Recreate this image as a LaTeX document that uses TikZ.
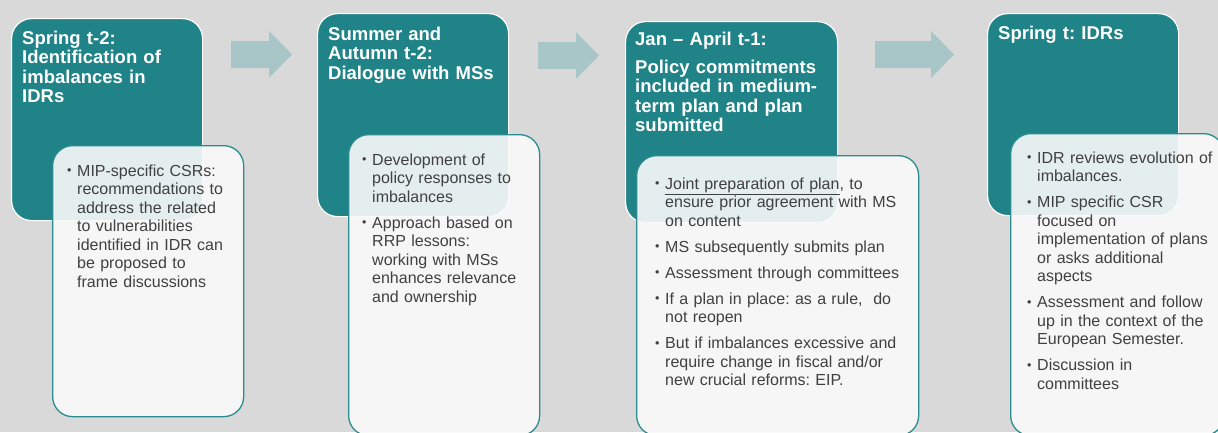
\documentclass[tikz,border=0pt]{standalone}
\usepackage{fontspec}
\setmainfont{Liberation Sans}
\frenchspacing
\definecolor{bgc}{HTML}{D9D9D9}
\definecolor{tealc}{HTML}{1F8387}
\definecolor{arrowc}{HTML}{A8C6C7}
\definecolor{wborder}{HTML}{2B8C90}
\definecolor{wfill}{HTML}{FAFAFA}
\definecolor{txtc}{HTML}{404040}
\newcommand{\bitem}[1]{\hangindent=10pt\hangafter=1\noindent\makebox[10pt][l]{\raisebox{1.2pt}{\fontsize{12.5}{12.5}\selectfont\textbullet}}#1\par}
\tikzset{
  tealbox/.style={draw=white, line width=1.2pt, fill=tealc, rounded corners=20pt, anchor=north west, inner sep=0pt},
  whitebox/.style={draw=wborder, line width=1.3pt, fill=wfill, fill opacity=0.9, rounded corners=20pt, anchor=north west, inner sep=0pt},
  titletext/.style={anchor=base west, inner sep=0pt, text=white, text width=220pt, align=left, font=\fontsize{18.5}{19.5}\selectfont\bfseries},
  bodytext/.style={anchor=base west, inner sep=0pt, text=txtc, text width=300pt, align=left, font=\fontsize{16}{18.5}\selectfont},
  blockarrow/.style={fill=arrowc, draw=none}
}
\begin{document}
\begin{tikzpicture}[x=1pt,y=-1pt]
\fill[bgc] (0,0) rectangle (1218,432);
\useasboundingbox (0,0) rectangle (1218,432);
% teal header boxes
\node[tealbox, minimum width=191pt, minimum height=202pt] (t1) at (11,18) {};
\node[tealbox, minimum width=191pt, minimum height=203pt] (t2) at (317,13) {};
\node[tealbox, minimum width=212pt, minimum height=201pt] (t3) at (625,21) {};
\node[tealbox, minimum width=191pt, minimum height=202pt] (t4) at (987,13) {};
% white content boxes
\node[whitebox, minimum width=191pt, minimum height=271pt] (w1) at (52,145) {};
\node[whitebox, minimum width=191pt, minimum height=301pt] (w2) at (348,134) {};
\node[whitebox, minimum width=282pt, minimum height=280pt] (w3) at (636,155) {};
\node[whitebox, minimum width=213pt, minimum height=302pt] (w4) at (1010,133) {};
% block arrows
\coordinate (a1) at (231,41);
\coordinate (a2) at (538,42);
\coordinate (a3) at (875,41);
\fill[blockarrow] (a1) -- ++(38,0) -- ++(0,-10) -- ++(23,23.5) -- ++(-23,23.5) -- ++(0,-10) -- ++(-38,0) -- cycle;
\fill[blockarrow] (a2) -- ++(38,0) -- ++(0,-10) -- ++(23,23.5) -- ++(-23,23.5) -- ++(0,-10) -- ++(-38,0) -- cycle;
\fill[blockarrow] (a3) -- ++(56,0) -- ++(0,-10) -- ++(23,23.5) -- ++(-23,23.5) -- ++(0,-10) -- ++(-56,0) -- cycle;
% titles
\node[titletext] (h1) at (22,44) {Spring t-2:\\Identification of\\imbalances in\\IDRs};
\node[titletext] (h2) at (328,40) {Summer and\\Autumn t-2:\\Dialogue with MSs};
\node[titletext] (h3) at (635,45.5) {Jan -- April t-1:\\[8pt]Policy commitments\\included in medium-\\term plan and plan\\submitted};
\node[titletext] (h4) at (998,39.5) {Spring t: IDRs};
% bodies
\node[bodytext] (b1) at (67,176) {\setlength{\parskip}{7.5pt}%
\bitem{MIP-specific CSRs:\newline recommendations to\newline address the related\newline to vulnerabilities\newline identified in IDR can\newline be proposed to\newline frame discussions}};
\node[bodytext] (b2) at (362,165) {\setlength{\parskip}{7.5pt}%
\bitem{Development of\newline policy responses to\newline imbalances}%
\bitem{Approach based on\newline RRP lessons:\newline working with MSs\newline enhances relevance\newline and ownership}};
\node[bodytext] (b3) at (655,189) {\setlength{\parskip}{7.5pt}%
\bitem{\underline{Joint preparation of plan}, to\newline ensure prior agreement with MS\newline on content}%
\bitem{MS subsequently submits plan}%
\bitem{Assessment through committees}%
\bitem{If a plan in place: as a rule,\ \ do\newline not reopen}%
\bitem{But if imbalances excessive and\newline require change in fiscal and/or\newline new crucial reforms: EIP.}};
\node[bodytext] (b4) at (1027,163) {\setlength{\parskip}{7.5pt}%
\bitem{IDR reviews evolution of\newline imbalances.}%
\bitem{MIP specific CSR\newline focused on\newline implementation of plans\newline or asks additional\newline aspects}%
\bitem{Assessment and follow\newline up in the context of the\newline European Semester.}%
\bitem{Discussion in\newline committees}};
\end{tikzpicture}
\end{document}
